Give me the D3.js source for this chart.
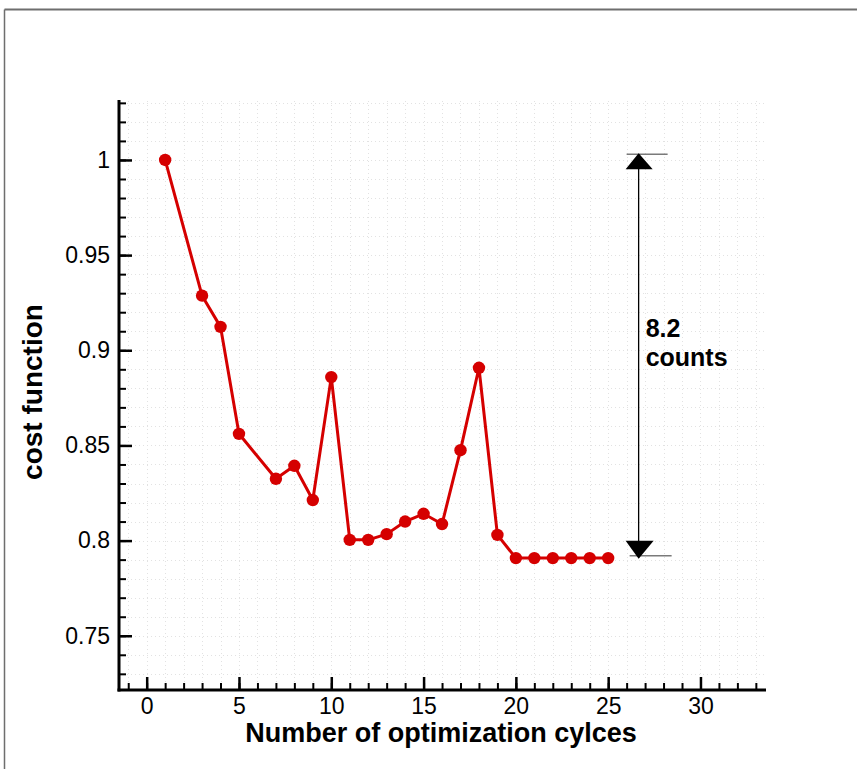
<!DOCTYPE html>
<html>
<head>
<meta charset="utf-8">
<script src="https://cdn.jsdelivr.net/npm/d3@7"></script>
<style>
  html, body { margin: 0; padding: 0; background: #fff; }
  svg { display: block; }
  text { font-family: "Liberation Sans", Arial, Helvetica, sans-serif; fill: #000; }
</style>
</head>
<body>
<svg id="chart" width="857" height="769"></svg>
<script>
// Optimization history of the cost function
const cycles = [1, 3, 4, 5, 7, 8, 9, 10, 11, 12, 13, 14, 15, 16, 17, 18, 19, 20, 21, 22, 23, 24, 25];
const costValues = [1.0, 0.9287, 0.9123, 0.8561, 0.8325, 0.8393, 0.8213, 0.8859, 0.8004, 0.8004, 0.8034,
                    0.8100, 0.8141, 0.8087, 0.8475, 0.8908, 0.8030, 0.7908, 0.7908, 0.7908, 0.7908, 0.7908, 0.7908];

const xMajorTicks = [0, 5, 10, 15, 20, 25, 30];
const yMajorTicks = [0.75, 0.8, 0.85, 0.9, 0.95, 1.0];
const yTickLabels = ["0.75", "0.8", "0.85", "0.9", "0.95", "1"];

// Dimension annotation: reduction between first and converged cycles
const annotationCycle = [26.65];
const annotationRange = [1.003, 0.792];
const annotationText = ["8.2", "counts"];

const svg = d3.select("#chart");

const x = d3.scaleLinear().domain([-1.5, 33.55]).range([119, 766]);
const y = d3.scaleLinear().domain([0.7215, 1.0315]).range([690, 100]);

// outer frame (top and left edges)
svg.append("line").attr("x1", 4.5).attr("x2", 857).attr("y1", 9.5).attr("y2", 9.5)
  .attr("stroke", "#6e6e6e").attr("stroke-width", 2);
svg.append("line").attr("x1", 4.5).attr("x2", 4.5).attr("y1", 9.5).attr("y2", 769)
  .attr("stroke", "#6e6e6e").attr("stroke-width", 1.5);

// minor grid
const xMinor = d3.range(-1, 34, 1);
const yMinor = d3.range(73, 104, 1).map(d => d / 100);
const grid = svg.append("g").attr("stroke", "#e2e2e2").attr("stroke-width", 1)
  .attr("stroke-dasharray", "1,3");
grid.selectAll(".gx").data(xMinor).join("line")
  .attr("x1", d => Math.round(x(d)) + 0.5).attr("x2", d => Math.round(x(d)) + 0.5)
  .attr("y1", y.range()[0]).attr("y2", y.range()[1]);
grid.selectAll(".gy").data(yMinor).join("line")
  .attr("y1", d => Math.round(y(d)) + 0.5).attr("y2", d => Math.round(y(d)) + 0.5)
  .attr("x1", x.range()[0]).attr("x2", x.range()[1]);

// x axis: major ticks labelled, minor ticks every cycle, ticks pointing up
const xAxisMinor = d3.axisBottom(x).tickValues(xMinor).tickSize(-7).tickFormat("");
const xAxisMajor = d3.axisBottom(x).tickValues(xMajorTicks).tickSize(-13).tickPadding(8)
  .tickFormat(d3.format("d"));
const gxMinor = svg.append("g").attr("transform", "translate(0,690)").call(xAxisMinor);
const gxMajor = svg.append("g").attr("transform", "translate(0,690)").call(xAxisMajor);

// y axis: ticks pointing right
const yAxisMinor = d3.axisLeft(y).tickValues(yMinor).tickSize(-7).tickFormat("");
const yAxisMajor = d3.axisLeft(y).tickValues(yMajorTicks).tickSize(-13).tickPadding(9)
  .tickFormat((d, i) => yTickLabels[i]);
const gyMinor = svg.append("g").attr("transform", "translate(119,0)").call(yAxisMinor);
const gyMajor = svg.append("g").attr("transform", "translate(119,0)").call(yAxisMajor);

[gxMinor, gxMajor, gyMinor, gyMajor].forEach(g => {
  g.select(".domain").remove();
  g.selectAll(".tick line").attr("stroke", "#000").attr("stroke-width", 2);
  g.selectAll(".tick text").attr("font-size", 23).attr("fill", "#000")
    .attr("font-family", "Liberation Sans, Arial, sans-serif");
});
gyMajor.selectAll(".tick line").attr("stroke-width", 2.5);
gxMajor.selectAll(".tick line").attr("stroke-width", 2.5);

// axis lines
svg.append("line").attr("x1", x.range()[0] - 1.5).attr("x2", x.range()[1]).attr("y1", 690).attr("y2", 690)
  .attr("stroke", "#000").attr("stroke-width", 3);
svg.append("line").attr("x1", 119).attr("x2", 119).attr("y1", y.range()[1]).attr("y2", 691.5)
  .attr("stroke", "#000").attr("stroke-width", 3);

// axis titles
svg.append("text").attr("x", 441).attr("y", 742).attr("text-anchor", "middle")
  .attr("font-size", 27).attr("font-weight", "bold").text("Number of optimization cylces");
svg.append("text").attr("transform", "translate(42,392) rotate(-90)").attr("text-anchor", "middle")
  .attr("font-size", 28).attr("font-weight", "bold").text("cost function");

// series
const red = "#d50000";
const pts = cycles.map((c, i) => [c, costValues[i]]);
svg.append("path").datum(pts)
  .attr("fill", "none").attr("stroke", red).attr("stroke-width", 3).attr("stroke-linejoin", "round")
  .attr("d", d3.line().x(d => x(d[0])).y(d => y(d[1])));
svg.append("g").selectAll("circle").data(pts).join("circle")
  .attr("cx", d => x(d[0])).attr("cy", d => y(d[1])).attr("r", 6.2).attr("fill", red);

// dimension arrow
const ax = x(annotationCycle[0]);
const yTop = y(annotationRange[0]);
const yBot = y(annotationRange[1]);
svg.append("line").attr("x1", ax - 12).attr("x2", ax + 29).attr("y1", yTop).attr("y2", yTop)
  .attr("stroke", "#7a7a7a").attr("stroke-width", 1.5);
svg.append("line").attr("x1", ax - 9).attr("x2", ax + 33).attr("y1", yBot).attr("y2", yBot)
  .attr("stroke", "#7a7a7a").attr("stroke-width", 1.5);
svg.append("line").attr("x1", ax).attr("x2", ax).attr("y1", yTop).attr("y2", yBot + 2)
  .attr("stroke", "#000").attr("stroke-width", 1.3);
svg.append("path").attr("fill", "#000")
  .attr("d", `M${ax},${yTop - 1} L${ax - 13},${yTop + 15} L${ax + 14},${yTop + 15} Z`);
svg.append("path").attr("fill", "#000")
  .attr("d", `M${ax},${yBot + 3} L${ax - 13},${yBot - 15} L${ax + 15},${yBot - 15} Z`);

const lab = svg.append("text").attr("font-size", 25).attr("font-weight", "bold");
lab.append("tspan").attr("x", ax + 7).attr("y", 337).text(annotationText[0]);
lab.append("tspan").attr("x", ax + 7).attr("y", 366).text(annotationText[1]);
</script>
</body>
</html>
